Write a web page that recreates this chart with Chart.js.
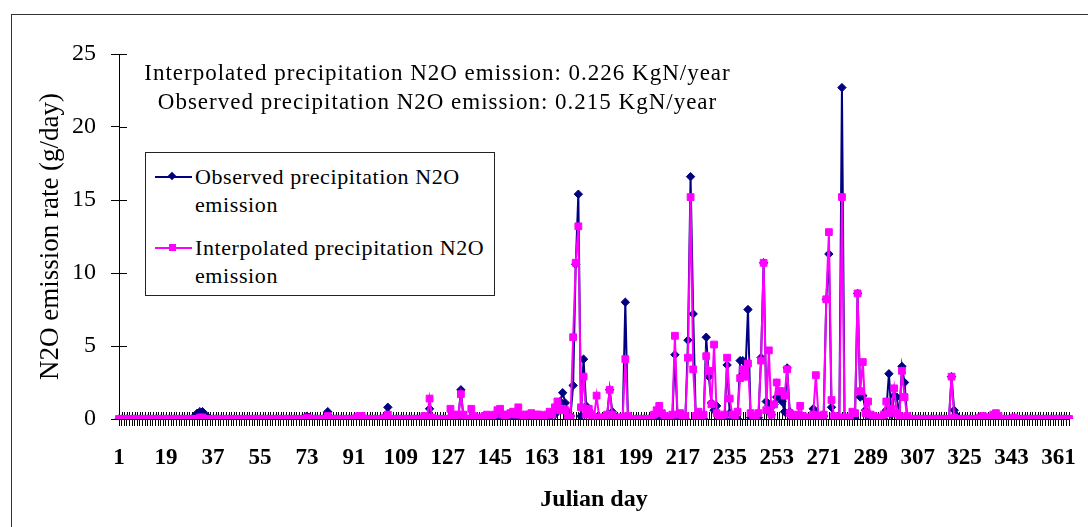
<!DOCTYPE html>
<html>
<head>
<meta charset="utf-8">
<script src="https://cdn.jsdelivr.net/npm/chart.js@4.4.1/dist/chart.umd.min.js"></script>
<style>
  html, body { margin: 0; padding: 0; background: #fff; overflow: hidden; }
  #wrap { position: relative; width: 1088px; height: 527px; font-family: "Liberation Serif", "Times New Roman", serif; color: #000; }
  #frame { position: absolute; left: 11px; top: 14px; width: 1200px; height: 600px; border: 1px solid #333; }
  #chart { position: absolute; left: 0; top: 0; }
  .note { position: absolute; left: 0; width: 875px; text-align: center; font-size: 23px; letter-spacing: 1px; white-space: nowrap; line-height: 28px; }
  #legend { position: absolute; left: 145px; top: 152px; width: 348px; height: 142px; border: 1px solid #222; background: #fff; }
  .item { position: absolute; left: 0; font-size: 22px; line-height: 28px; }
  .item .txt { position: absolute; left: 49px; top: 0; white-space: nowrap; letter-spacing: 0.6px; }
  .item .ln { position: absolute; left: 9px; top: 13px; width: 37px; height: 2px; }
  .item .mk { position: absolute; }
</style>
</head>
<body>
<div id="wrap">
  <div id="frame"></div>
  <canvas id="chart" width="1088" height="527"></canvas>
  <div class="note" style="top:59px">Interpolated precipitation N2O emission: 0.226 KgN/year</div>
  <div class="note" style="top:88px">Observed precipitation N2O emission: 0.215 KgN/year</div>
  <div id="legend"></div>
</div>
<script>
// Julian day 1..365 (category axis)
const days = Array.from({ length: 365 }, (_, i) => i + 1);
const tickDays = [1, 19, 37, 55, 73, 91, 109, 127, 145, 163, 181, 199, 217, 235, 253, 271, 289, 307, 325, 343, 361];

// Observed precipitation N2O emission (g/day), 10 days per row
const observed = [
  0, 0, 0, 0, 0, 0, 0, 0, 0, 0,
  0, 0, 0, 0, 0, 0, 0, 0, 0, 0,
  0, 0, 0, 0, 0, 0, 0, 0, 0, 0.2,
  0.4, 0.5, 0.5, 0.3, 0.1, 0, 0, 0, 0, 0,
  0, 0, 0, 0, 0, 0, 0, 0, 0, 0,
  0, 0, 0, 0, 0, 0, 0, 0, 0, 0,
  0, 0, 0, 0, 0, 0, 0, 0, 0, 0,
  0, 0, 0.2, 0.1, 0, 0, 0, 0, 0, 0.1,
  0.5, 0.1, 0, 0, 0, 0, 0, 0, 0, 0,
  0, 0, 0.1, 0, 0, 0, 0, 0, 0, 0,
  0, 0, 0.2, 0.8, 0, 0, 0, 0, 0, 0,
  0, 0, 0, 0, 0, 0, 0, 0, 0, 0.7,
  0, 0, 0, 0, 0, 0, 0, 0.1, 0, 0,
  0, 2.0, 0, 0, 0, 0.1, 0, 0, 0, 0,
  0, 0, 0, 0, 0, 0, 0.1, 0, 0, 0,
  0, 0, 0, 0, 0, 0, 0, 0, 0, 0,
  0, 0.1, 0, 0, 0, 0.2, 0.5, 0.3, 0.6, 1.2,
  1.8, 1.1, 0.5, 0.2, 2.3, 10.6, 15.4, 0.2, 4.1, 0.9,
  0.6, 0.2, 0, 0.1, 0, 0, 0, 0.2, 2.0, 0.5,
  0.2, 0, 0, 0, 8.0, 0.1, 0, 0, 0, 0,
  0, 0, 0, 0, 0, 0, 0.1, 0.5, 0.3, 0,
  0, 0, 0, 4.4, 0.1, 0, 0, 0, 5.4, 16.6,
  7.2, 0.1, 0, 0, 0, 5.6, 2.9, 1.1, 0.6, 0.9,
  0, 0, 0, 3.7, 0.4, 0, 0, 0, 4.0, 4.0,
  3.1, 7.5, 0.1, 0, 0, 0.1, 4.2, 10.7, 1.2, 0.9,
  0.3, 1.0, 1.5, 1.8, 1.2, 0.5, 3.5, 0.5, 0, 0,
  0, 0, 0, 0, 0, 0, 0.7, 0.4, 0.1, 0,
  0.2, 8.2, 11.3, 0.8, 0, 0, 0, 22.7, 0, 0,
  0, 0.2, 0, 8.6, 1.5, 1.6, 0.6, 0.3, 0, 0,
  0, 0, 0, 0, 0.6, 3.1, 0.3, 1.6, 1.5, 0.3,
  3.6, 2.5, 0.1, 0, 0, 0, 0, 0, 0, 0,
  0, 0, 0, 0, 0, 0, 0, 0, 0, 2.9,
  0.6, 0.2, 0, 0, 0, 0, 0, 0, 0, 0,
  0, 0, 0, 0, 0, 0, 0, 0, 0, 0,
  0, 0, 0, 0, 0, 0, 0, 0, 0, 0,
  0, 0, 0, 0, 0, 0, 0, 0, 0, 0,
  0, 0, 0, 0, 0
];

// Interpolated precipitation N2O emission (g/day), 10 days per row
const interpolated = [
  0, 0, 0, 0, 0, 0, 0, 0, 0, 0,
  0, 0, 0, 0, 0, 0, 0, 0, 0, 0,
  0, 0, 0, 0, 0, 0, 0, 0, 0, 0,
  0, 0.1, 0.1, 0, 0, 0, 0, 0, 0, 0,
  0, 0, 0, 0, 0, 0, 0, 0, 0, 0,
  0, 0, 0, 0, 0, 0, 0, 0, 0, 0,
  0, 0, 0, 0, 0, 0, 0, 0, 0, 0,
  0, 0, 0.1, 0, 0, 0, 0, 0, 0, 0,
  0.2, 0, 0, 0, 0, 0, 0, 0, 0, 0,
  0, 0.1, 0.2, 0.2, 0, 0, 0, 0, 0, 0,
  0, 0, 0.1, 0.3, 0, 0, 0, 0, 0, 0,
  0, 0, 0, 0, 0, 0, 0, 0.2, 0, 1.4,
  0.1, 0, 0, 0, 0, 0, 0, 0.7, 0.3, 0,
  0.3, 1.7, 0.3, 0, 0, 0.7, 0.2, 0, 0, 0.1,
  0.2, 0.3, 0.1, 0.2, 0.3, 0.6, 0.7, 0.3, 0.1, 0.3,
  0.4, 0.5, 0.3, 0.8, 0.3, 0.2, 0.3, 0.3, 0.4, 0.2,
  0.3, 0.3, 0.2, 0.2, 0.3, 0.5, 0.3, 0.8, 1.2, 0.6,
  0.7, 0.6, 0.1, 0.1, 5.6, 10.7, 13.2, 0.8, 2.9, 0.3,
  0.7, 0.3, 0.1, 1.6, 0.1, 0.1, 0.1, 0.3, 2.0, 0.3,
  0, 0.1, 0.1, 0.1, 4.1, 0.2, 0, 0, 0, 0,
  0, 0, 0, 0, 0, 0.3, 0.6, 0.9, 0.4, 0.2,
  0.1, 0.1, 0.3, 5.7, 0.3, 0.4, 0.1, 0.2, 4.2, 15.2,
  3.4, 0.2, 0.5, 0.1, 0.3, 4.3, 3.3, 1.0, 5.1, 0.4,
  0.1, 0.2, 0.3, 4.2, 1.4, 0.3, 0.1, 0.5, 2.8, 3.4,
  2.9, 3.8, 0.4, 0.2, 0.1, 0.4, 4.0, 10.7, 0.6, 4.7,
  0.3, 1.0, 2.5, 1.9, 1.9, 1.6, 3.4, 0.4, 0.2, 0.1,
  0.3, 0.9, 0.2, 0.1, 0.1, 0.1, 0.3, 3.0, 0.2, 0.2,
  0.3, 8.2, 12.8, 1.3, 0.2, 0.1, 0.1, 15.2, 0.1, 0.1,
  0.1, 0.5, 0.4, 8.6, 1.9, 3.9, 0.4, 1.2, 0.3, 0.2,
  0.1, 0.1, 0.1, 0.3, 1.2, 0.4, 0.7, 2.1, 0.4, 0.2,
  3.3, 1.5, 0.2, 0, 0, 0, 0, 0, 0, 0,
  0, 0, 0, 0, 0, 0, 0, 0, 0, 2.9,
  0.1, 0, 0, 0, 0, 0, 0, 0, 0, 0,
  0.1, 0.2, 0.1, 0.1, 0.1, 0.3, 0.4, 0.2, 0, 0,
  0, 0, 0, 0.1, 0, 0, 0, 0, 0, 0,
  0, 0, 0, 0, 0, 0, 0, 0, 0, 0,
  0, 0, 0, 0, 0
];

const yTicks = [0, 5, 10, 15, 20, 25];

const series = [
  { label: 'Observed precipitation N2O emission', lines: ['Observed precipitation N2O', 'emission'],
    data: observed, color: '#000080', style: 'rectRot', radius: 4.2, order: 2 },
  { label: 'Interpolated precipitation N2O emission', lines: ['Interpolated precipitation N2O', 'emission'],
    data: interpolated, color: '#ff00ff', style: 'rect', radius: 4.8, order: 1 }
];

const SERIF = '"Liberation Serif", "Times New Roman", serif';

// tick marks crossing the axes, like the original
const crossTicks = {
  id: 'crossTicks',
  beforeDatasetsDraw(chart) {
    const { ctx, chartArea, scales: { x, y } } = chart;
    ctx.save();
    ctx.strokeStyle = '#000';
    ctx.lineWidth = 1;
    ctx.beginPath();
    for (let i = 0; i < x.ticks.length; i++) {
      const px = Math.round(x.getPixelForTick(i)) + 0.5;
      ctx.moveTo(px, chartArea.bottom - 7);
      ctx.lineTo(px, chartArea.bottom);
    }
    for (let i = 0; i < y.ticks.length; i++) {
      const py = Math.round(y.getPixelForTick(i)) + 0.5;
      ctx.moveTo(chartArea.left, py);
      ctx.lineTo(chartArea.left + 8, py);
    }
    ctx.stroke();
    ctx.restore();
  }
};

new Chart(document.getElementById('chart').getContext('2d'), {
  type: 'line',
  data: {
    labels: days,
    datasets: series.map(s => ({
      label: s.label, data: s.data, order: s.order,
      borderColor: s.color, backgroundColor: s.color, borderWidth: 2,
      pointStyle: s.style, pointRadius: s.radius, pointBorderWidth: 1,
      pointBackgroundColor: s.color, pointBorderColor: s.color,
      tension: 0, fill: false
    }))
  },
  options: {
    responsive: false, animation: false,
    layout: { padding: { top: 54, right: 19, left: 0, bottom: 0 } },
    plugins: { legend: { display: false }, tooltip: { enabled: false } },
    scales: {
      x: {
        type: 'category', offset: false,
        border: { display: true, color: '#000', width: 1 },
        grid: { display: true, drawOnChartArea: false, drawTicks: true, tickLength: 7, color: '#000', lineWidth: 1 },
        ticks: {
          autoSkip: false, maxRotation: 0, minRotation: 0, padding: 18, color: '#000',
          font: { family: SERIF, size: 23, weight: 'bold' },
          callback(v) {
            const d = Number(this.getLabelForValue(v));
            return tickDays.includes(d) ? String(d) : '';
          }
        },
        title: { display: true, text: 'Julian day', color: '#000',
          font: { family: SERIF, size: 24, weight: 'bold' }, padding: { top: 0, bottom: 13 } },
        afterFit(s) { s.height = 108; }
      },
      y: {
        min: 0, max: 25,
        border: { display: true, color: '#000', width: 1 },
        grid: { display: true, drawOnChartArea: false, drawTicks: true, tickLength: 8, color: '#000', lineWidth: 1 },
        ticks: { stepSize: 5, padding: 15, color: '#000', font: { family: SERIF, size: 24 },
          callback: v => yTicks.includes(v) ? String(v) : '' },
        title: { display: true, text: 'N2O emission rate (g/day)', color: '#000',
          font: { family: SERIF, size: 27 }, padding: { top: 35, bottom: 0 } },
        afterFit(s) { s.width = 119; }
      }
    }
  },
  plugins: [crossTicks]
});

// legend box built from the series
const legend = document.getElementById('legend');
series.forEach((s, i) => {
  const item = document.createElement('div');
  item.className = 'item';
  item.style.top = (10 + i * 71) + 'px';
  const mk = s.style === 'rectRot'
    ? `<div class="mk" style="left:23px;top:10px;width:6px;height:6px;background:${s.color};transform:rotate(45deg)"></div>`
    : `<div class="mk" style="left:23px;top:10px;width:7px;height:7px;background:${s.color}"></div>`;
  item.innerHTML = `<div class="ln" style="background:${s.color}"></div>${mk}
    <div class="txt">${s.lines[0]}<br>${s.lines[1]}</div>`;
  legend.appendChild(item);
});
</script>
</body>
</html>
